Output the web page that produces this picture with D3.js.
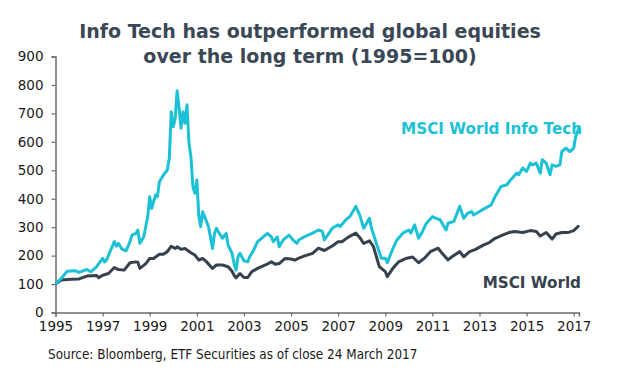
<!DOCTYPE html>
<html>
<head>
<meta charset="utf-8">
<script src="https://cdn.jsdelivr.net/npm/d3@7"></script>
<style>
  html, body { margin: 0; padding: 0; background: #fff; }
  svg { display: block; }
</style>
</head>
<body>
<svg id="chart" width="643" height="375"></svg>
<script>
// ---- Data ----
const titleLines = ["Info Tech has outperformed global equities", "over the long term (1995=100)"];
const sourceText = "Source: Bloomberg, ETF Securities as of close 24 March 2017";
const seriesNames = ["MSCI World Info Tech", "MSCI World"];
const yTicks = [0, 100, 200, 300, 400, 500, 600, 700, 800, 900];
const xTickYears = [1995, 1997, 1999, 2001, 2003, 2005, 2007, 2009, 2011, 2013, 2015, 2017];

const techDates = ["1995-01","1995-04","1995-07","1995-11","1996-01","1996-04","1996-05","1996-07","1996-10","1996-11",
  "1997-01","1997-02","1997-03","1997-05","1997-07","1997-08","1997-09","1997-11","1998-01","1998-03",
  "1998-04","1998-06","1998-07","1998-08","1998-10","1998-12","1999-01","1999-02","1999-04","1999-05",
  "1999-06","1999-08","1999-10","1999-11","1999-12","2000-01","2000-02","2000-03","2000-04","2000-05",
  "2000-06","2000-07","2000-08","2000-09","2000-10","2000-11","2000-12","2001-01","2001-02","2001-03",
  "2001-04","2001-05","2001-07","2001-09","2001-10","2001-11","2001-12","2002-02","2002-04","2002-05",
  "2002-07","2002-08","2002-09","2002-10","2002-11","2003-01","2003-03","2003-04","2003-06","2003-08",
  "2003-10","2004-01","2004-03","2004-04","2004-06","2004-07","2004-09","2004-12","2005-02","2005-04",
  "2005-05","2005-08","2005-12","2006-03","2006-05","2006-06","2006-10","2007-01","2007-02","2007-05",
  "2007-07","2007-10","2007-12","2008-02","2008-05","2008-06","2008-09","2008-11","2009-01","2009-02",
  "2009-05","2009-07","2009-10","2010-01","2010-02","2010-04","2010-06","2010-08","2010-10","2011-01",
  "2011-03","2011-05","2011-08","2011-09","2011-12","2012-03","2012-05","2012-07","2012-09","2012-10",
  "2013-01","2013-04","2013-07","2013-09","2013-12","2014-03","2014-05","2014-08","2014-09","2014-11",
  "2015-01","2015-03","2015-04","2015-06","2015-08","2015-09","2015-11","2016-01","2016-02","2016-04",
  "2016-06","2016-07","2016-09","2016-11","2017-01","2017-02","2017-03-24"];
const techValues = [100,120,145,147,141,149,151,143,161,172,
  190,178,184,217,249,233,243,222,217,249,
  272,278,290,243,266,337,407,366,413,407,
  460,483,501,542,706,653,683,780,718,648,
  706,665,730,595,548,442,419,466,337,302,
  354,337,302,225,278,296,284,261,278,237,
  208,172,149,196,208,182,178,196,219,249,
  261,278,266,249,266,231,255,272,255,243,
  255,267,279,290,285,255,296,308,302,326,
  337,373,343,296,331,296,232,191,191,175,
  226,255,279,290,279,308,261,285,314,337,
  331,326,290,314,320,373,331,349,355,343,
  355,367,378,408,443,449,467,490,484,508,
  496,525,519,525,490,537,525,484,519,514,
  519,566,578,566,578,619,649];

const worldDates = ["1995-01","1995-04","1995-09","1996-01","1996-05","1996-10","1996-11","1997-01","1997-04","1997-07",
  "1997-09","1997-12","1998-03","1998-06","1998-07","1998-08","1998-11","1999-01","1999-03","1999-06",
  "1999-08","1999-10","1999-12","2000-02","2000-03","2000-05","2000-07","2000-10","2000-12","2001-02",
  "2001-04","2001-06","2001-09","2001-11","2002-02","2002-05","2002-07","2002-08","2002-09","2002-11",
  "2003-01","2003-03","2003-05","2003-08","2003-12","2004-03","2004-05","2004-07","2004-10","2005-01",
  "2005-03","2005-05","2005-08","2005-12","2006-03","2006-06","2006-10","2007-01","2007-03","2007-06",
  "2007-10","2007-12","2008-02","2008-05","2008-07","2008-10","2009-01","2009-02","2009-05","2009-08",
  "2009-12","2010-03","2010-06","2010-09","2010-12","2011-04","2011-06","2011-09","2011-11","2012-03",
  "2012-05","2012-08","2012-11","2013-03","2013-06","2013-09","2014-01","2014-04","2014-07","2014-11",
  "2015-03","2015-06","2015-08","2015-11","2016-02","2016-04","2016-07","2016-10","2017-01","2017-03-24"];
const worldValues = [100,114,117,118,128,130,122,131,137,158,
  151,149,175,178,177,155,172,190,190,205,
  205,214,233,225,231,222,225,210,202,184,
  190,178,155,167,167,161,145,131,122,137,
  123,123,143,155,167,178,170,172,190,188,
  184,191,199,208,226,218,234,249,249,264,
  279,264,243,252,232,161,144,126,156,179,
  191,195,175,191,214,226,208,185,196,214,
  196,214,222,237,246,261,273,281,285,281,
  288,285,269,281,258,276,281,281,288,306];

// ---- Setup ----
const parseM = d3.timeParse("%Y-%m"), parseD = d3.timeParse("%Y-%m-%d");
const parse = s => parseD(s) || parseM(s);
const tech = techDates.map((d, i) => ({date: parse(d), value: techValues[i]}));
const world = worldDates.map((d, i) => ({date: parse(d), value: worldValues[i]}));

const techColor = "#1cc1d5", worldColor = "#36434f", textDark = "#3a4856";
const svg = d3.select("#chart");
const margin = {left: 55.5, right: 64, top: 56.5, bottom: 62.5};
const W = 643, H = 375;

const x = d3.scaleTime()
  .domain([parse("1995-01"), parse("2017-03-24")])
  .range([margin.left, W - margin.right]);
const y = d3.scaleLinear().domain([0, 900]).range([H - margin.bottom, margin.top]);

// Title
const title = svg.append("text")
  .attr("x", 310).attr("y", 38)
  .attr("text-anchor", "middle")
  .attr("font-family", "DejaVu Sans, Verdana, sans-serif")
  .attr("font-weight", "bold").attr("font-size", 19)
  .attr("fill", textDark);
titleLines.forEach((t, i) => title.append("tspan").attr("x", 310).attr("dy", i ? 25 : 0).text(t));

// Axes
const axisColor = "#6b6b6b";
const xAxis = svg.append("g")
  .attr("transform", `translate(0,${y(0)})`)
  .call(d3.axisBottom(x)
    .tickValues(xTickYears.map(yr => new Date(yr, 0, 1)))
    .tickFormat(d3.timeFormat("%Y"))
    .tickSizeOuter(0).tickSize(4).tickPadding(5));
const yAxis = svg.append("g")
  .attr("transform", `translate(${margin.left},0)`)
  .call(d3.axisLeft(y).tickValues(yTicks).tickSizeOuter(0).tickSize(4).tickPadding(8));
[xAxis, yAxis].forEach(g => {
  g.select(".domain").attr("stroke", axisColor).attr("stroke-width", 1.5);
  g.selectAll(".tick line").attr("stroke", axisColor).attr("stroke-width", 1.2);
  g.selectAll(".tick text")
    .attr("font-family", "DejaVu Sans, Verdana, sans-serif")
    .attr("font-size", 13.5).attr("fill", "#1a1a1a");
});

// Lines
const line = d3.line().x(d => x(d.date)).y(d => y(d.value));
svg.append("path").datum(world)
  .attr("fill", "none").attr("stroke", worldColor).attr("stroke-width", 3)
  .attr("stroke-linejoin", "round").attr("d", line);
svg.append("path").datum(tech)
  .attr("fill", "none").attr("stroke", techColor).attr("stroke-width", 3)
  .attr("stroke-linejoin", "round").attr("d", line);

// Series labels
svg.append("text").attr("x", 582).attr("y", 134).attr("text-anchor", "end")
  .attr("font-family", "DejaVu Sans, Verdana, sans-serif").attr("font-weight", "bold")
  .attr("font-size", 15.2).attr("fill", techColor).text(seriesNames[0]);
svg.append("text").attr("x", 581).attr("y", 288).attr("text-anchor", "end")
  .attr("font-family", "DejaVu Sans, Verdana, sans-serif").attr("font-weight", "bold")
  .attr("font-size", 15.2).attr("fill", worldColor).text(seriesNames[1]);

// Source
svg.append("text").attr("x", 48).attr("y", 359)
  .attr("font-family", "DejaVu Sans Condensed, DejaVu Sans, sans-serif")
  .attr("font-size", 13.4).attr("fill", "#1a1a1a").text(sourceText);
</script>
</body>
</html>
